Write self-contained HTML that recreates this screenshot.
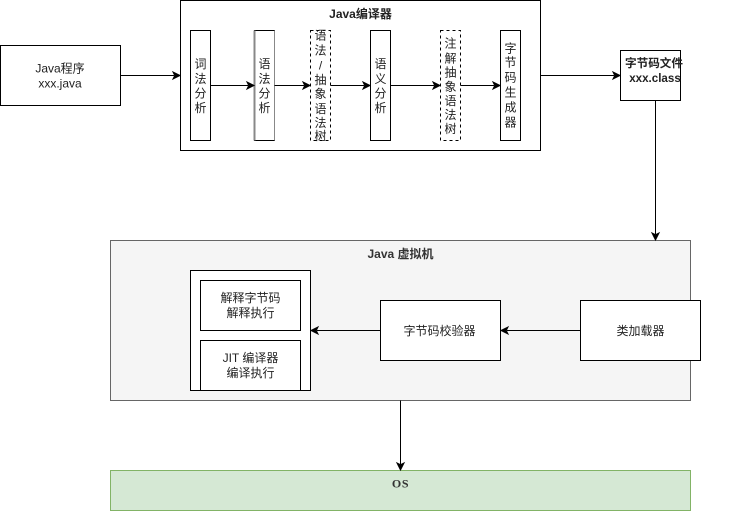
<!DOCTYPE html>
<html>
<head>
<meta charset="utf-8">
<style>
html,body{margin:0;padding:0;background:#fff;}
svg{display:block;}
text{font-family:"Liberation Sans","Noto Sans CJK SC",sans-serif;font-size:12px;fill:#222;text-anchor:middle;}
.b{font-weight:bold;}
.box{fill:#fff;stroke:#000;stroke-width:1;}
.line{stroke:#000;stroke-width:1;fill:none;}
.arr{fill:#000;stroke:#000;stroke-width:1;}
</style>
</head>
<body>
<svg width="751" height="511" viewBox="0 0 751 511" xmlns="http://www.w3.org/2000/svg">
<rect x="0" y="0" width="751" height="511" fill="#fff"/>

<rect class="box" x="0.5" y="45.5" width="120" height="60"/>
<text x="60" y="72.5">Java程序</text>
<text x="60" y="87.5">xxx.java</text>

<rect class="box" x="180.5" y="0.5" width="360" height="150"/>
<text class="b" x="360.5" y="18">Java编译器</text>

<rect class="box" x="190.5" y="30.5" width="20" height="110"/>
<text x="200.5"><tspan x="200.5" y="68">词</tspan><tspan x="200.5" y="83">法</tspan><tspan x="200.5" y="97.5">分</tspan><tspan x="200.5" y="112">析</tspan></text>

<rect x="254.5" y="30.5" width="20" height="110" fill="#fff" stroke="#000"/>
<line x1="254.5" y1="30.5" x2="254.5" y2="140.5" stroke="#888" stroke-width="2"/>
<line x1="274.5" y1="30.5" x2="274.5" y2="140.5" stroke="#888" stroke-width="1"/>
<text x="264.5"><tspan x="264.5" y="68">语</tspan><tspan x="264.5" y="83">法</tspan><tspan x="264.5" y="97.5">分</tspan><tspan x="264.5" y="112">析</tspan></text>

<rect class="box" x="310.5" y="30.5" width="20" height="110" stroke-dasharray="3 3"/>
<text x="320.5"><tspan x="320.5" y="39.5">语</tspan><tspan x="320.5" y="54.5">法</tspan><tspan x="320.5" y="69.5">/</tspan><tspan x="320.5" y="84">抽</tspan><tspan x="320.5" y="98">象</tspan><tspan x="320.5" y="113">语</tspan><tspan x="320.5" y="127">法</tspan><tspan x="320.5" y="140">树</tspan></text>

<rect class="box" x="370.5" y="30.5" width="20" height="110"/>
<text x="380.5"><tspan x="380.5" y="68">语</tspan><tspan x="380.5" y="83">义</tspan><tspan x="380.5" y="97.5">分</tspan><tspan x="380.5" y="112">析</tspan></text>

<rect class="box" x="440.5" y="30.5" width="20" height="110" stroke-dasharray="3 3"/>
<text x="450.5"><tspan x="450.5" y="47.5">注</tspan><tspan x="450.5" y="62.5">解</tspan><tspan x="450.5" y="76.5">抽</tspan><tspan x="450.5" y="91">象</tspan><tspan x="450.5" y="105">语</tspan><tspan x="450.5" y="119">法</tspan><tspan x="450.5" y="133">树</tspan></text>

<rect class="box" x="500.5" y="30.5" width="20" height="110"/>
<text x="510.5"><tspan x="510.5" y="52.5">字</tspan><tspan x="510.5" y="66.5">节</tspan><tspan x="510.5" y="81.5">码</tspan><tspan x="510.5" y="96.5">生</tspan><tspan x="510.5" y="111.5">成</tspan><tspan x="510.5" y="126.5">器</tspan></text>

<rect class="box" x="620.5" y="50.5" width="60" height="50"/>
<text class="b" x="654" y="67" style="font-size:11.6px">字节码文件</text>
<text class="b" x="655" y="82" style="font-size:11.6px">xxx.class</text>

<rect x="110.5" y="240.5" width="580" height="160" fill="#f5f5f5" stroke="#666"/>
<text class="b" x="400.5" y="258" style="fill:#333">Java 虚拟机</text>

<rect class="box" x="190.5" y="270.5" width="120" height="120"/>
<rect class="box" x="200.5" y="280.5" width="100" height="50"/>
<text x="250.5" y="302">解释字节码</text>
<text x="250.5" y="317">解释执行</text>
<rect class="box" x="200.5" y="340.5" width="100" height="50"/>
<text x="250.5" y="362">JIT 编译器</text>
<text x="250.5" y="377">编译执行</text>

<rect class="box" x="380.5" y="300.5" width="120" height="60"/>
<text x="439.5" y="335">字节码校验器</text>
<rect class="box" x="580.5" y="300.5" width="120" height="60"/>
<text x="640.5" y="335">类加载器</text>

<rect x="110.5" y="470.5" width="580" height="40" fill="#d5e8d4" stroke="#82b366"/>
<text class="b" x="400.5" y="487.5" style="fill:#333;letter-spacing:0.6px;font-family:'Liberation Serif','Noto Serif CJK SC',serif;">OS</text>

<path class="line" d="M120.5 75.5H174"/><path class="arr" d="M180 75.5l-7-3.5 1.75 3.5-1.75 3.5z"/>
<path class="line" d="M210.5 85.5H248"/><path class="arr" d="M254 85.5l-7-3.5 1.75 3.5-1.75 3.5z"/>
<path class="line" d="M274.5 85.5H304"/><path class="arr" d="M310 85.5l-7-3.5 1.75 3.5-1.75 3.5z"/>
<path class="line" d="M330.5 85.5H364"/><path class="arr" d="M370 85.5l-7-3.5 1.75 3.5-1.75 3.5z"/>
<path class="line" d="M390.5 85.5H434"/><path class="arr" d="M440 85.5l-7-3.5 1.75 3.5-1.75 3.5z"/>
<path class="line" d="M460.5 85.5H494"/><path class="arr" d="M500 85.5l-7-3.5 1.75 3.5-1.75 3.5z"/>
<path class="line" d="M540.5 75.5H614"/><path class="arr" d="M620 75.5l-7-3.5 1.75 3.5-1.75 3.5z"/>
<path class="line" d="M655.5 100.5V234"/><path class="arr" d="M655.5 240l-3.5-7 3.5 1.75 3.5-1.75z"/>
<path class="line" d="M580.5 330.5H507"/><path class="arr" d="M501 330.5l7-3.5-1.75 3.5 1.75 3.5z"/>
<path class="line" d="M380.5 330.5H317"/><path class="arr" d="M311 330.5l7-3.5-1.75 3.5 1.75 3.5z"/>
<path class="line" d="M400.5 400.5V464"/><path class="arr" d="M400.5 470l-3.5-7 3.5 1.75 3.5-1.75z"/>
</svg>
</body>
</html>
